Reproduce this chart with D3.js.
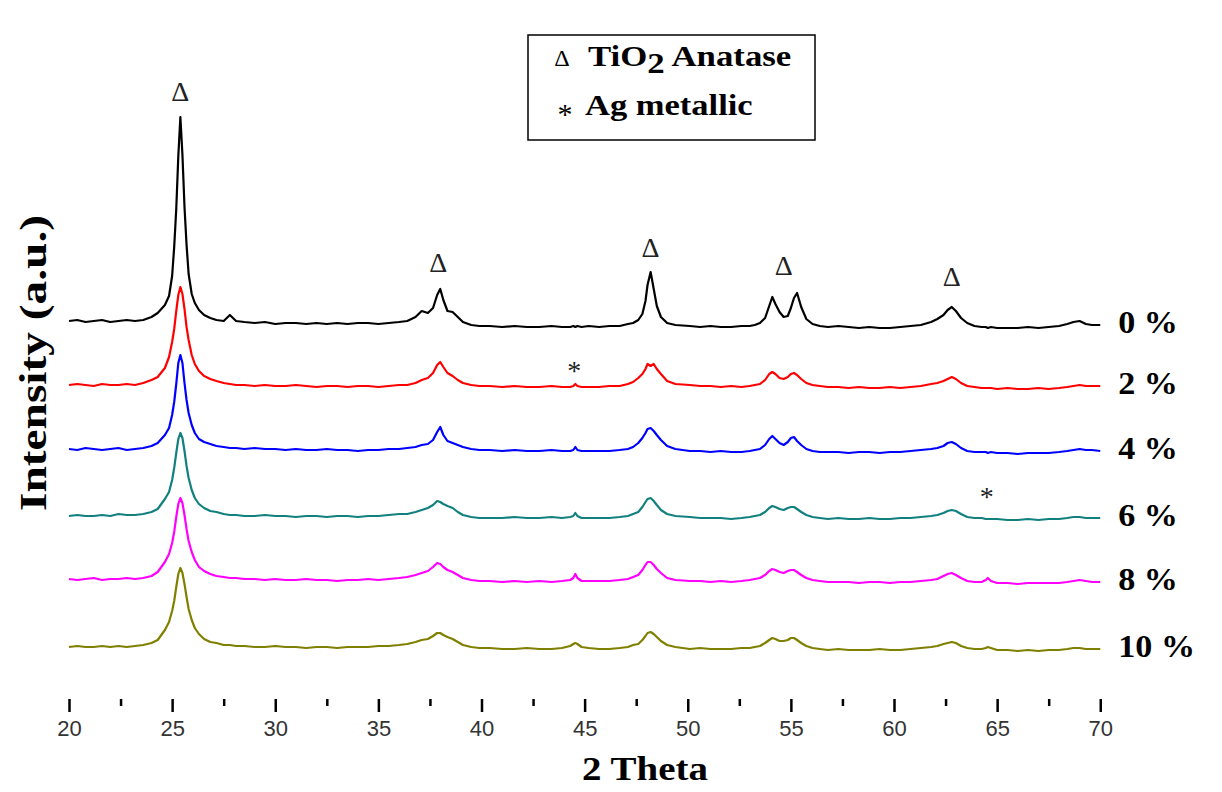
<!DOCTYPE html>
<html>
<head>
<meta charset="utf-8">
<script src="https://cdn.jsdelivr.net/npm/d3@7"></script>
<style>
  body { margin: 0; background: #fff; }
  svg { display: block; }
</style>
</head>
<body>
<svg id="chart" width="1222" height="792"></svg>
<script>
/* XRD patterns of Ag-doped TiO2 (a.u., each trace above its own baseline) */
var theta = [
  20, 20.4, 20.8, 21.2, 21.6, 22, 22.4, 22.8, 23.2, 23.6, 24, 24.3,
  24.65, 24.85, 25, 25.1, 25.2, 25.3, 25.4, 25.5, 25.6, 25.7, 25.8, 25.95, 26.1, 26.3, 26.55, 26.85, 27.15, 27.5, 27.8, 28.1,
  28.5, 29, 29.5, 30, 30.5, 31, 31.5, 32, 32.5, 33, 33.5, 34, 34.5, 35, 35.5, 36,
  36.4, 36.8, 37.1, 37.4, 37.65, 37.85, 38, 38.15, 38.35, 38.6, 38.85, 39.1, 39.5, 39.9,
  40.4, 41, 41.6, 42.2, 42.8, 43.4, 43.9,
  44.3, 44.45, 44.55, 44.65, 44.85, 45.2,
  45.7, 46.2, 46.7, 47.1, 47.35,
  47.6, 47.8, 47.95, 48.05, 48.2, 48.35, 48.5, 48.7, 49, 49.4,
  50.1, 50.6, 51.1, 51.6, 52.1, 52.6, 53, 53.25,
  53.5, 53.75, 53.95, 54.1, 54.25, 54.45, 54.65, 54.85, 55, 55.15, 55.3, 55.5, 55.75, 56.05, 56.4,
  56.8, 57.3, 57.8, 58.3, 58.8, 59.3, 59.8, 60.3, 60.8, 61.3, 61.8,
  62.1, 62.4, 62.6, 62.8, 63, 63.25, 63.55, 63.9,
  64.25, 64.45, 64.55, 64.7, 65, 65.5, 66, 66.5, 67, 67.5, 68, 68.4, 68.7, 69, 69.3, 69.6, 70
];

var ag0 = [
  10, 11, 9, 10, 11, 9, 10, 11, 10, 11, 14, 18,
  26, 35, 55, 84, 122, 175, 214, 176, 124, 86, 57, 37, 28, 21, 16, 13, 11, 10, 16, 10,
  9, 8, 9, 7, 8, 8, 7, 8, 7, 8, 7, 8, 8, 7, 8, 9,
  10, 14, 20, 18, 23, 36, 42, 31, 20, 19, 14, 9, 6, 5,
  5, 4, 5, 4, 4, 5, 4,
  4, 5, 4, 5, 4, 5,
  4, 5, 5, 7, 8,
  11, 17, 30, 46, 59, 42, 25, 14, 8, 6,
  5, 4, 5, 4, 4, 5, 5, 6,
  8, 13, 25, 34, 27, 19, 14, 15, 23, 33, 38, 24, 12, 7, 5,
  4, 5, 4, 3, 4, 3, 3, 4, 5, 6, 9,
  12, 16, 21, 24, 20, 13, 8, 5,
  4, 4, 3, 4, 3, 3, 3, 4, 3, 4, 5, 7, 9, 10, 7, 6, 6
];

var ag2 = [
  10, 11, 10, 9, 11, 10, 10, 11, 10, 12, 15, 18,
  27, 38, 53, 66, 84, 100, 108, 101, 86, 68, 55, 40, 31, 24, 19, 16, 14, 12, 11, 10,
  10, 9, 10, 9, 9, 10, 9, 8, 9, 9, 8, 9, 9, 8, 9, 10,
  10, 12, 15, 17, 22, 30, 33, 28, 22, 19, 15, 12, 10, 9,
  9, 8, 9, 8, 8, 9, 8,
  8, 9, 11, 9, 8, 8,
  8, 9, 9, 11, 13,
  17, 21, 26, 31, 29, 31, 26, 21, 14, 11,
  10, 9, 9, 8, 9, 8, 9, 10,
  11, 15, 21, 23, 21, 17, 16, 18, 21, 22, 20, 16, 12, 10, 9,
  8, 8, 7, 8, 7, 7, 8, 7, 8, 9, 11,
  12, 14, 16, 18, 16, 12, 9, 8,
  7, 7, 7, 7, 6, 7, 6, 6, 7, 6, 7, 8, 9, 10, 9, 9, 9
];

var ag4 = [
  11, 10, 12, 11, 10, 11, 12, 10, 11, 12, 14, 17,
  25, 32, 45, 58, 76, 97, 105, 97, 77, 60, 47, 35, 27, 21, 18, 16, 14, 13, 12, 12,
  11, 12, 11, 11, 10, 11, 10, 10, 11, 10, 10, 9, 10, 10, 11, 11,
  12, 13, 15, 16, 20, 28, 33, 25, 19, 17, 15, 13, 11, 10,
  10, 9, 10, 9, 9, 10, 9,
  9, 10, 13, 10, 9, 9,
  9, 9, 10, 11, 13,
  17, 22, 27, 31, 32, 29, 25, 20, 14, 11,
  9, 9, 8, 9, 8, 8, 9, 10,
  11, 15, 21, 24, 21, 17, 15, 18, 22, 23, 19, 15, 11, 9, 8,
  8, 8, 7, 8, 8, 7, 8, 8, 9, 10, 11,
  12, 14, 17, 18, 16, 12, 9, 8,
  8, 8, 7, 8, 7, 7, 6, 7, 7, 7, 8, 9, 10, 11, 10, 10, 9
];

var ag6 = [
  10, 11, 10, 10, 11, 10, 12, 11, 11, 12, 14, 17,
  27, 34, 46, 58, 73, 87, 93, 88, 75, 60, 48, 36, 28, 22, 18, 15, 14, 12, 11, 11,
  10, 10, 11, 10, 10, 9, 10, 10, 9, 10, 10, 9, 10, 10, 11, 12,
  12, 14, 16, 18, 21, 25, 24, 22, 20, 18, 14, 11, 9, 8,
  8, 8, 9, 8, 8, 9, 8,
  9, 10, 13, 10, 8, 8,
  8, 8, 9, 10, 12,
  14, 19, 24, 27, 28, 25, 21, 16, 12, 10,
  9, 8, 8, 8, 7, 8, 9, 10,
  11, 14, 18, 20, 19, 17, 16, 18, 19, 19, 17, 14, 11, 9, 8,
  7, 8, 7, 7, 8, 7, 7, 8, 8, 9, 10,
  11, 13, 15, 16, 15, 12, 9, 8,
  8, 7, 7, 7, 7, 6, 6, 7, 6, 7, 7, 8, 9, 9, 8, 8, 8
];

var ag8 = [
  11, 10, 11, 12, 10, 11, 11, 12, 11, 12, 14, 18,
  28, 36, 47, 58, 73, 86, 92, 87, 75, 61, 49, 38, 30, 23, 19, 16, 14, 13, 12, 12,
  11, 11, 10, 11, 10, 10, 11, 10, 10, 9, 10, 10, 11, 10, 11, 12,
  13, 15, 17, 19, 23, 27, 26, 23, 20, 18, 15, 12, 10, 9,
  9, 8, 9, 8, 9, 8, 9,
  10, 12, 16, 12, 9, 9,
  9, 9, 10, 11, 13,
  15, 20, 25, 28, 28, 25, 21, 17, 12, 10,
  9, 9, 8, 9, 8, 9, 10, 11,
  12, 15, 19, 21, 20, 18, 17, 19, 20, 20, 18, 15, 12, 10, 9,
  8, 8, 8, 7, 8, 8, 7, 8, 8, 9, 10,
  11, 14, 16, 17, 15, 12, 9, 8,
  8, 10, 12, 9, 7, 7, 6, 7, 7, 7, 7, 8, 9, 10, 9, 8, 8
];

var ag10 = [
  10, 11, 10, 10, 11, 10, 11, 10, 11, 12, 14, 17,
  27, 35, 46, 56, 70, 83, 89, 84, 73, 60, 48, 37, 29, 23, 18, 15, 14, 12, 12, 11,
  11, 10, 10, 11, 10, 10, 9, 10, 10, 9, 10, 10, 10, 11, 11, 12,
  13, 15, 17, 18, 21, 24, 24, 22, 20, 18, 15, 12, 10, 9,
  9, 8, 8, 9, 8, 8, 9,
  11, 13, 14, 13, 10, 9,
  8, 8, 9, 10, 12,
  13, 17, 21, 24, 25, 23, 20, 16, 12, 10,
  8, 9, 8, 8, 8, 9, 9, 10,
  11, 14, 17, 19, 18, 16, 16, 17, 19, 19, 17, 14, 11, 9, 8,
  7, 8, 7, 7, 7, 8, 7, 7, 8, 9, 10,
  11, 13, 14, 15, 14, 11, 9, 8,
  8, 9, 10, 9, 7, 7, 6, 7, 6, 7, 7, 8, 9, 9, 8, 8, 8
];

var seriesLabels = ["0 %", "2 %", "4 %", "6 %", "8 %", "10 %"];
var seriesValues = [ag0, ag2, ag4, ag6, ag8, ag10];
var seriesOffsets = [368, 304, 239, 173, 109, 42];   // vertical stacking of the traces
var seriesColors = ["#000000", "#ff0000", "#0000ff", "#138080", "#ff00ff", "#808000"];

var xTicks = [20, 25, 30, 35, 40, 45, 50, 55, 60, 65, 70];
var xMinorTicks = [22.5, 27.5, 32.5, 37.5, 42.5, 47.5, 52.5, 57.5, 62.5, 67.5];

// peak markers: 2theta and height (a.u. on the stacked scale)
var anataseTheta = [25.4, 37.9, 48.2, 54.65, 62.8];
var anataseHeight = [607, 436, 451, 433, 422];
var silverTheta = [44.5, 64.5];
var silverHeight = [332, 206];

seriesValues.forEach(function (s, i) {
  console.assert(s.length === theta.length, "length mismatch in series " + i);
});

var serif = "'Liberation Serif', 'Times New Roman', Times, serif";
var sans = "'Liberation Sans', Arial, Helvetica, sans-serif";

var svg = d3.select("#chart");
var W = +svg.attr("width");

var x = d3.scaleLinear().domain([20, 76]).range([69, 1224]);
var y = d3.scaleLinear().domain([0, 689]).range([699, 10]);

// make a text element wider than its font would draw it
function stretch(sel, k) {
  sel.each(function () {
    var len = this.getComputedTextLength();
    d3.select(this).attr("textLength", len * k).attr("lengthAdjust", "spacingAndGlyphs");
  });
}

/* traces */
var line = d3.line()
    .x(function (d) { return x(d[0]); })
    .y(function (d) { return y(d[1]); });

seriesValues.forEach(function (vals, i) {
  var pts = theta.map(function (t, j) { return [t, vals[j] + seriesOffsets[i]]; });
  svg.append("path")
      .attr("d", line(pts))
      .attr("fill", "none")
      .attr("stroke", seriesColors[i])
      .attr("stroke-width", 2.2)
      .attr("stroke-linejoin", "round");

  // label at the right end of the trace
  var last = pts[pts.length - 1];
  svg.append("text")
      .attr("x", x(70) + 18)
      .attr("y", y(last[1]) + 8)
      .attr("font-family", serif)
      .attr("font-weight", "bold")
      .attr("font-size", 31)
      .attr("fill", "#000")
      .text(seriesLabels[i])
      .call(stretch, 1.1);
});

/* peak markers */
svg.selectAll(".anatase")
    .data(anataseTheta)
    .enter().append("text")
    .attr("class", "anatase")
    .attr("x", function (d) { return x(d); })
    .attr("y", function (d, i) { return y(anataseHeight[i]) + 9; })
    .attr("text-anchor", "middle")
    .attr("font-family", serif)
    .attr("font-size", 28)
    .attr("fill", "#222")
    .text("\u0394");

svg.selectAll(".silver")
    .data(silverTheta)
    .enter().append("text")
    .attr("class", "silver")
    .attr("x", function (d) { return x(d); })
    .attr("y", function (d, i) { return y(silverHeight[i]) + 13; })
    .attr("text-anchor", "middle")
    .attr("font-family", serif)
    .attr("font-size", 28)
    .attr("fill", "#222")
    .text("*");

/* frame */
var left = x(20), top = y(689), bottom = y(0);
svg.append("path")
    .attr("d", "M" + W + "," + top + "H" + left + "V" + bottom + "H" + W)
    .attr("fill", "none")
    .attr("stroke", "#000")
    .attr("stroke-width", 3);

/* x axis */
var gx = svg.append("g")
    .attr("transform", "translate(0," + bottom + ")")
    .call(d3.axisBottom(x).tickValues(xTicks).tickSize(13).tickSizeOuter(0).tickPadding(8));
gx.select(".domain").remove();
gx.attr("font-family", sans).attr("font-size", 22);
gx.selectAll(".tick line").attr("stroke", "#000").attr("stroke-width", 2.5);
gx.selectAll(".tick text").attr("fill", "#333");

var gxm = svg.append("g")
    .attr("transform", "translate(0," + bottom + ")")
    .call(d3.axisBottom(x).tickValues(xMinorTicks).tickSize(7).tickSizeOuter(0).tickFormat(""));
gxm.select(".domain").remove();
gxm.selectAll(".tick line").attr("stroke", "#000").attr("stroke-width", 2.5);

/* axis titles */
svg.append("text")
    .attr("x", 645)
    .attr("y", 780)
    .attr("text-anchor", "middle")
    .attr("font-family", serif)
    .attr("font-weight", "bold")
    .attr("font-size", 33)
    .text("2 Theta")
    .call(stretch, 1.18);

svg.append("text")
    .attr("transform", "translate(46,363) rotate(-90)")
    .attr("text-anchor", "middle")
    .attr("font-family", serif)
    .attr("font-weight", "bold")
    .attr("font-size", 37)
    .text("Intensity (a.u.)")
    .call(stretch, 1.28);

/* legend */
var lg = svg.append("g").attr("transform", "translate(528,35)");
lg.append("rect")
    .attr("width", 287)
    .attr("height", 105)
    .attr("fill", "#fff")
    .attr("stroke", "#000")
    .attr("stroke-width", 1.5);

lg.append("text")
    .attr("x", 34).attr("y", 31)
    .attr("text-anchor", "middle")
    .attr("font-family", serif)
    .attr("font-size", 24)
    .text("\u0394");
lg.append("text")
    .attr("x", 37).attr("y", 89)
    .attr("text-anchor", "middle")
    .attr("font-family", serif)
    .attr("font-size", 30)
    .text("*");

var t1 = lg.append("g").attr("transform", "translate(60,31) scale(1.2,1)")
    .append("text")
    .attr("font-family", serif)
    .attr("font-weight", "bold")
    .attr("font-size", 29);
t1.append("tspan").text("TiO");
t1.append("tspan").attr("dy", 7).text("2");
t1.append("tspan").attr("dy", -7).text(" Anatase");

lg.append("g").attr("transform", "translate(57,80) scale(1.19,1)")
    .append("text")
    .attr("font-family", serif)
    .attr("font-weight", "bold")
    .attr("font-size", 29)
    .text("Ag metallic");
</script>
</body>
</html>
